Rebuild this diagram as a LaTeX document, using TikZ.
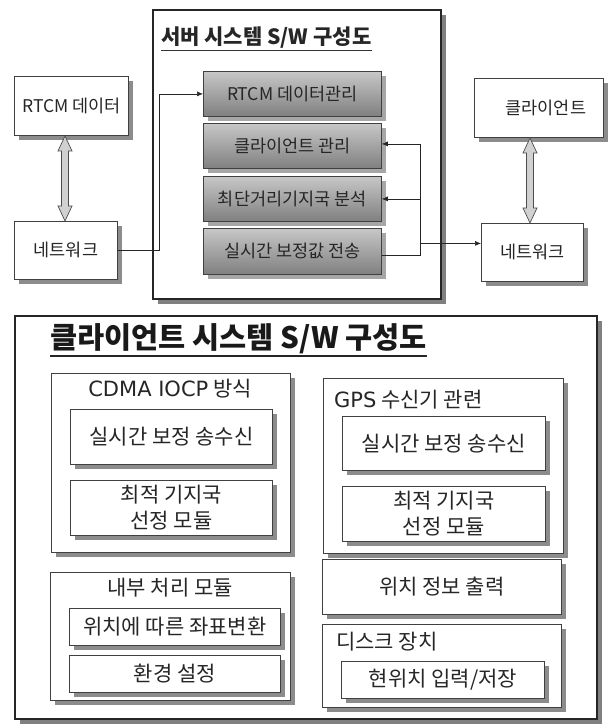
\documentclass[tikz,border=0pt]{standalone}
\usepackage{fontspec}
\setmainfont{Noto Sans CJK KR}
\newfontfamily\latfont{DejaVu Sans}
\usetikzlibrary{shadows,arrows.meta,calc}
\tikzset{
  box/.style={draw=black!75, line width=0.8pt, fill=white, inner sep=0pt,
    drop shadow={shadow xshift=5pt, shadow yshift=-5pt, fill=black!45, opacity=1}},
  gbox/.style={draw=black!75, line width=0.8pt, inner sep=0pt, top color=black!22, bottom color=black!50,
    drop shadow={shadow xshift=5pt, shadow yshift=-5pt, fill=black!35, opacity=1}},
  frame/.style={draw=black!85, line width=2.2pt, fill=white, inner sep=0pt,
    drop shadow={shadow xshift=5pt, shadow yshift=-5pt, fill=black!50, opacity=1}},
  conn/.style={line width=0.6pt, draw=black!85, -{Latex[length=6pt,width=5pt]}},
  sm/.style={font=\fontsize{17.5}{21}\selectfont, text=black!85},
  lg/.style={font=\fontsize{21}{26}\selectfont, text=black!85, align=center},
  dbl/.style={fill=black!18, draw=black!70, line width=0.7pt},
}
% \bxnode[style]{name}{x1}{y1}{x2}{y2}{text}
\newcommand\bxnode[7][]{%
  \node[#1, anchor=north west, minimum width={(#5-#3)*1pt}, minimum height={(#6-#4)*1pt}] (#2) at (#3,#4) {#7};}
\newcommand\dblarrow[3]{%
  \filldraw[dbl] (#1,#2) -- (#1+7,#2+15) -- (#1+3.5,#2+15) -- (#1+3.5,#3-15) -- (#1+7,#3-15)
    -- (#1,#3) -- (#1-7,#3-15) -- (#1-3.5,#3-15) -- (#1-3.5,#2+15) -- (#1-7,#2+15) -- cycle;}
\begin{document}
\begin{tikzpicture}[x=1pt,y=-1pt]
\useasboundingbox (0,0) rectangle (607,727);
% ---------- top part ----------
\bxnode[frame]{server}{152}{9}{440}{298}{}
\node[anchor=west, inner sep=0pt, font=\fontsize{21}{24}\bfseries\selectfont, text=black!85] (stitle) at (161,38) {서버 시스템 S/W 구성도};
\draw[line width=1.2pt, black!80] ([yshift=-1.5pt]stitle.south west) -- ([yshift=-1.5pt]stitle.south east);

\bxnode[gbox, sm]{mgr}{203}{71}{381}{116}{RTCM 데이터관리}
\bxnode[gbox, sm]{climgr}{203}{123}{381}{168}{클라이언트 관리}
\bxnode[gbox, sm]{short}{203}{176}{381}{221}{최단거리기지국 분석}
\bxnode[gbox, sm]{send}{203}{228}{381}{274}{실시간 보정값 전송}

\bxnode[box, sm]{rtcm}{14}{76}{128}{135}{RTCM 데이터}
\bxnode[box, sm]{lnet}{14}{221}{117}{279}{네트워크}
\bxnode[box, sm]{client}{474}{78}{603}{137}{\hspace*{14pt}클라이언트}
\bxnode[box, sm]{rnet}{481}{223}{583}{281}{네트워크}

\dblarrow{65}{136}{221}
\dblarrow{530}{138}{223}

\draw[conn] (lnet.east) -- ++(41,0) |- (mgr.west);
\coordinate (bx) at ([xshift=38pt,yshift=2pt]climgr.east);
\coordinate (j) at ([yshift=9pt]rnet.west);
\draw[conn] ([yshift=-4pt]send.east) -| (bx) -- ([yshift=2pt]climgr.east);
\draw[conn] (bx |- short.east) -- (short.east);
\draw[conn] (bx |- j) -- (j);

% ---------- bottom part ----------
\bxnode[frame]{cbox}{14}{315}{596}{718}{}
\node[anchor=west, inner sep=0pt, font=\fontsize{29.5}{32}\bfseries\selectfont, text=black!90] (ctitle) at (50,339) {클라이언트 시스템 S/W 구성도};
\draw[line width=1.8pt, black!85] ([yshift=-1.5pt]ctitle.south west) -- ([yshift=-1.5pt]ctitle.south east);

\bxnode[box]{cdma}{51}{373}{290}{552}{}
\node[lg, inner sep=0pt] (cdmal) at (170,389) {{\latfont CDMA IOCP} 방식};
\bxnode[box, lg]{cdma1}{70}{409}{272}{464}{실시간 보정 송수신}
\bxnode[box, lg]{cdma2}{70}{480}{272}{535}{최적 기지국\\선정 모듈}

\bxnode[box]{gps}{323}{378}{563}{553}{}
\node[lg, inner sep=0pt, anchor=west] (gpsl) at (334,400) {{\latfont GPS} 수신기 관련};
\bxnode[box, lg]{gps1}{342}{416}{545}{470}{실시간 보정 송수신}
\bxnode[box, lg]{gps2}{342}{486}{545}{541}{최적 기지국\\선정 모듈}

\bxnode[box]{inner}{50}{572}{290}{700}{}
\node[lg, inner sep=0pt] (innerl) at (170,588) {내부 처리 모듈};
\bxnode[box, lg]{inner1}{69}{608}{280}{645}{위치에 따른 좌표변환}
\bxnode[box, lg]{inner2}{69}{655}{280}{692}{환경 설정}

\bxnode[box, lg]{posout}{322}{559}{561}{614}{위치 정보 출력}

\bxnode[box]{disk}{322}{624}{561}{707}{}
\node[lg, inner sep=0pt, anchor=west] (diskl) at (336,642) {디스크 장치};
\bxnode[box, lg]{disk1}{341}{661}{544}{698}{현위치 입력/저장}
\end{tikzpicture}
\end{document}
